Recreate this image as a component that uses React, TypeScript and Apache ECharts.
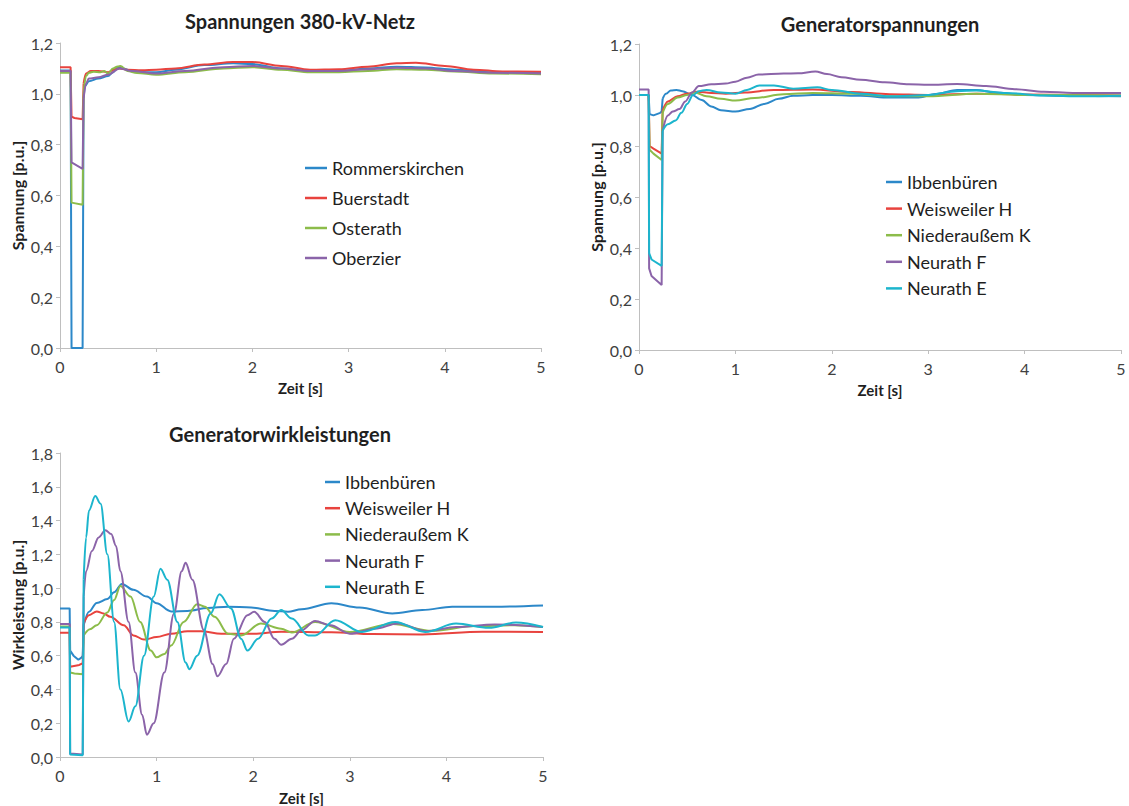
import React, { useEffect, useRef } from "react";
import * as echarts from "echarts";

// ---------- data ----------
const FAULT_END = 0.245; // first point after fault clearing (start of smooth part)

const titles = ["Spannungen 380-kV-Netz", "Generatorspannungen", "Generatorwirkleistungen"];
const yNames = ["Spannung [p.u.]", "Spannung [p.u.]", "Wirkleistung [p.u.]"];
const xName = "Zeit [s]";
const yMax = [1.2, 1.2, 1.8];

const names1 = ["Rommerskirchen", "Buerstadt", "Osterath", "Oberzier"];
const names2 = ["Ibbenbüren", "Weisweiler H", "Niederaußem K", "Neurath F", "Neurath E"];

const colBlue = "#2C88C9";
const colRed = "#E8433E";
const colGreen = "#8CBC4A";
const colPurple = "#8B64A9";
const colCyan = "#1CB5CD";
const colors1 = [colBlue, colRed, colGreen, colPurple];
const colors2 = [colBlue, colRed, colGreen, colPurple, colCyan];

// Chart 1: Spannungen 380-kV-Netz
const c1Rommerskirchen = [[0,1.092],[0.11,1.092],[0.12,0],[0.235,0],[0.245,0.98],[0.26,1.03],[0.3,1.05],[0.4,1.06],[0.5,1.07],[0.55,1.085],[0.6,1.105],[0.65,1.1],[0.75,1.09],[0.9,1.085],[1.0,1.085],[1.2,1.095],[1.5,1.113],[1.8,1.12],[2.0,1.117],[2.3,1.1],[2.6,1.09],[2.9,1.09],[3.2,1.1],[3.5,1.107],[3.8,1.104],[4.1,1.095],[4.5,1.085],[5,1.083]];
const c1Buerstadt = [[0,1.105],[0.11,1.105],[0.12,0.91],[0.15,0.905],[0.235,0.9],[0.245,1.04],[0.27,1.08],[0.32,1.09],[0.4,1.09],[0.5,1.085],[0.56,1.095],[0.62,1.1],[0.7,1.095],[0.85,1.093],[1.0,1.095],[1.2,1.1],[1.5,1.115],[1.8,1.125],[2.0,1.125],[2.3,1.11],[2.6,1.095],[2.9,1.097],[3.2,1.107],[3.5,1.12],[3.7,1.122],[4.0,1.11],[4.3,1.095],[4.6,1.088],[5,1.087]];
const c1Osterath = [[0,1.083],[0.11,1.083],[0.12,0.572],[0.235,0.564],[0.245,1.0],[0.27,1.07],[0.3,1.083],[0.35,1.087],[0.42,1.085],[0.46,1.09],[0.5,1.08],[0.55,1.1],[0.6,1.108],[0.63,1.11],[0.7,1.09],[0.8,1.082],[1.0,1.075],[1.3,1.085],[1.7,1.1],[2.0,1.105],[2.3,1.095],[2.6,1.085],[2.9,1.085],[3.2,1.09],[3.5,1.097],[3.8,1.095],[4.1,1.088],[4.5,1.08],[5,1.077]];
const c1Oberzier = [[0,1.09],[0.11,1.09],[0.12,0.73],[0.235,0.705],[0.245,0.98],[0.27,1.04],[0.3,1.06],[0.4,1.065],[0.5,1.075],[0.62,1.1],[0.75,1.09],[1.0,1.08],[1.3,1.09],[1.7,1.105],[2.0,1.11],[2.3,1.1],[2.6,1.09],[2.9,1.09],[3.2,1.097],[3.5,1.103],[3.8,1.1],[4.1,1.09],[4.5,1.083],[5,1.08]];

// Chart 2: Generatorspannungen
const c2Ibbenbueren = [[0,1.0],[0.1,1.0],[0.11,0.925],[0.15,0.92],[0.22,0.93],[0.235,0.935],[0.245,0.985],[0.28,1.005],[0.33,1.018],[0.39,1.02],[0.45,1.015],[0.55,1.0],[0.65,0.98],[0.75,0.955],[0.85,0.94],[1.0,0.935],[1.15,0.945],[1.3,0.965],[1.45,0.985],[1.6,0.997],[1.8,1.0],[2.0,1.0],[2.3,0.997],[2.6,0.99],[2.9,0.99],[3.1,1.005],[3.3,1.02],[3.5,1.02],[3.7,1.01],[4.0,1.0],[4.5,0.997],[5,0.995]];
const c2WeisweilerH = [[0,1.0],[0.1,1.0],[0.11,0.8],[0.15,0.79],[0.235,0.77],[0.245,0.94],[0.3,0.975],[0.4,0.995],[0.5,1.005],[0.6,1.013],[0.75,1.008],[0.9,1.005],[1.1,1.01],[1.4,1.02],[1.8,1.022],[2.2,1.012],[2.6,1.003],[3.0,1.0],[3.5,1.005],[4.0,1.002],[5,0.998]];
const c2NiederaussemK = [[0,1.0],[0.1,1.0],[0.11,0.785],[0.15,0.77],[0.235,0.745],[0.245,0.93],[0.3,0.965],[0.4,0.99],[0.5,1.0],[0.58,1.01],[0.7,0.995],[0.85,0.985],[1.0,0.978],[1.2,0.988],[1.5,1.003],[1.8,1.008],[2.2,1.005],[2.6,0.995],[3.0,0.995],[3.5,1.005],[4.0,1.0],[5,0.998]];
const c2NeurathF = [[0,1.022],[0.1,1.022],[0.105,0.32],[0.13,0.29],[0.235,0.255],[0.245,0.86],[0.3,0.92],[0.35,0.935],[0.42,0.945],[0.48,0.975],[0.55,1.01],[0.62,1.035],[0.75,1.042],[0.9,1.045],[1.0,1.052],[1.12,1.068],[1.24,1.08],[1.5,1.084],[1.65,1.085],[1.83,1.092],[1.95,1.082],[2.1,1.07],[2.3,1.06],[2.55,1.05],[2.8,1.042],[3.0,1.04],[3.3,1.043],[3.6,1.035],[3.9,1.023],[4.2,1.013],[4.5,1.008],[5,1.008]];
const c2NeurathE = [[0,1.0],[0.1,1.0],[0.105,0.38],[0.13,0.355],[0.235,0.33],[0.245,0.86],[0.3,0.885],[0.38,0.9],[0.44,0.93],[0.5,0.965],[0.56,1.0],[0.62,1.015],[0.7,1.02],[0.85,1.01],[1.0,1.005],[1.12,1.02],[1.25,1.037],[1.4,1.037],[1.6,1.025],[1.85,1.03],[2.0,1.02],[2.3,1.005],[2.6,0.995],[3.0,1.0],[3.3,1.015],[3.5,1.018],[3.8,1.008],[4.2,0.998],[4.6,0.995],[5,0.997]];

// Chart 3: Generatorwirkleistungen
const c3Ibbenbueren = [[0,0.88],[0.1,0.88],[0.105,0.63],[0.14,0.6],[0.19,0.576],[0.225,0.59],[0.235,0.6],[0.245,0.78],[0.3,0.86],[0.38,0.912],[0.49,0.935],[0.56,0.975],[0.64,1.025],[0.76,0.99],[0.9,0.95],[1.0,0.91],[1.15,0.862],[1.32,0.865],[1.53,0.882],[1.74,0.89],[1.98,0.885],[2.22,0.865],[2.36,0.86],[2.5,0.875],[2.81,0.91],[3.1,0.885],[3.44,0.85],[3.75,0.87],[4.06,0.89],[4.5,0.89],[5,0.897]];
const c3WeisweilerH = [[0,0.735],[0.1,0.735],[0.105,0.535],[0.2,0.545],[0.235,0.555],[0.245,0.79],[0.3,0.84],[0.38,0.862],[0.45,0.85],[0.52,0.83],[0.66,0.78],[0.76,0.72],[0.87,0.695],[1.0,0.71],[1.15,0.73],[1.32,0.745],[1.46,0.745],[1.67,0.73],[2.0,0.73],[2.29,0.742],[2.81,0.738],[3.23,0.728],[3.75,0.726],[4.375,0.742],[5,0.74]];
const c3NiederaussemK = [[0,0.773],[0.1,0.773],[0.105,0.5],[0.15,0.495],[0.235,0.49],[0.245,0.72],[0.31,0.757],[0.38,0.78],[0.49,0.856],[0.56,0.93],[0.625,1.013],[0.73,0.95],[0.83,0.8],[0.94,0.63],[1.0,0.59],[1.08,0.61],[1.15,0.66],[1.28,0.8],[1.42,0.905],[1.5,0.89],[1.6,0.83],[1.74,0.73],[1.875,0.72],[2.08,0.79],[2.29,0.76],[2.4,0.737],[2.64,0.8],[3.0,0.74],[3.44,0.787],[3.85,0.747],[4.3,0.775],[4.7,0.78],[5,0.77]];
const c3NeurathF = [[0,0.787],[0.1,0.787],[0.105,0.02],[0.235,0.015],[0.245,0.95],[0.27,1.1],[0.33,1.22],[0.4,1.3],[0.47,1.343],[0.53,1.32],[0.58,1.25],[0.625,1.1],[0.71,0.8],[0.78,0.5],[0.85,0.25],[0.9,0.132],[0.97,0.2],[1.08,0.5],[1.18,0.85],[1.26,1.1],[1.3,1.15],[1.37,1.05],[1.49,0.75],[1.58,0.55],[1.63,0.478],[1.72,0.55],[1.8,0.7],[1.94,0.84],[2.01,0.86],[2.12,0.8],[2.22,0.7],[2.29,0.665],[2.4,0.7],[2.5,0.75],[2.64,0.806],[2.8,0.78],[3.0,0.73],[3.26,0.76],[3.5,0.79],[3.8,0.745],[4.1,0.77],[4.5,0.785],[5,0.77]];
const c3NeurathE = [[0,0.767],[0.1,0.767],[0.105,0.015],[0.235,0.01],[0.245,1.05],[0.27,1.3],[0.3,1.46],[0.365,1.545],[0.42,1.5],[0.49,1.2],[0.56,0.8],[0.625,0.4],[0.71,0.21],[0.78,0.3],[0.87,0.6],[0.97,0.95],[1.04,1.115],[1.11,1.05],[1.215,0.8],[1.3,0.56],[1.34,0.52],[1.42,0.6],[1.56,0.85],[1.65,0.963],[1.77,0.88],[1.875,0.7],[1.94,0.63],[2.05,0.7],[2.19,0.82],[2.29,0.87],[2.4,0.82],[2.57,0.72],[2.64,0.72],[2.85,0.81],[3.125,0.74],[3.47,0.8],[3.78,0.74],[4.1,0.79],[4.44,0.765],[4.72,0.796],[5,0.77]];

const chart1Data = [c1Rommerskirchen, c1Buerstadt, c1Osterath, c1Oberzier];
const chart2Data = [c2Ibbenbueren, c2WeisweilerH, c2NiederaussemK, c2NeurathF, c2NeurathE];
const chart3Data = [c3Ibbenbueren, c3WeisweilerH, c3NiederaussemK, c3NeurathF, c3NeurathE];

// ---------- chart ----------
const FONT = "Lato, 'Open Sans', sans-serif";
const AXIS_COLOR = "#BFBFBF";
const LABEL_COLOR = "#404040";
const TEXT_COLOR = "#1f1f1f";

function makeSeries(name: string, color: string, data: number[][], g: number) {
  const base = {
    type: "line",
    name,
    xAxisIndex: g,
    yAxisIndex: g,
    showSymbol: false,
    symbol: "none",
    lineStyle: { width: 2, color },
    itemStyle: { color },
    emphasis: { disabled: true },
  };
  return [
    { ...base, data: data.filter((p) => p[0] <= FAULT_END), smooth: false },
    { ...base, data: data.filter((p) => p[0] >= FAULT_END), smooth: 0.35, smoothMonotone: "x" },
  ];
}

const fmtY = (v: number) => v.toFixed(1).replace(".", ",");

function makeAxes(g: number, nameGapX: number) {
  const x = {
    type: "value",
    gridIndex: g,
    min: 0,
    max: 5,
    interval: 1,
    name: xName,
    nameLocation: "middle",
    nameGap: nameGapX,
    nameTextStyle: { fontFamily: FONT, fontWeight: "bold", fontSize: 15, color: TEXT_COLOR },
    axisLine: { show: true, lineStyle: { color: AXIS_COLOR, width: 1 } },
    axisTick: { show: true, length: 4, lineStyle: { color: AXIS_COLOR } },
    axisLabel: { fontFamily: FONT, fontSize: 16, color: LABEL_COLOR, margin: 10, formatter: (v: number) => String(v) },
    splitLine: { show: false },
  };
  const y = {
    type: "value",
    gridIndex: g,
    min: 0,
    max: yMax[g],
    interval: 0.2,
    name: yNames[g],
    nameLocation: "middle",
    nameRotate: 90,
    nameGap: 35,
    nameTextStyle: { fontFamily: FONT, fontWeight: "bold", fontSize: 16, color: TEXT_COLOR },
    axisLine: { show: true, lineStyle: { color: AXIS_COLOR, width: 1 } },
    axisTick: { show: true, length: 4, lineStyle: { color: AXIS_COLOR } },
    axisLabel: { fontFamily: FONT, fontSize: 16, color: LABEL_COLOR, margin: 7, formatter: fmtY },
    splitLine: { show: false },
  };
  return { x, y };
}

function makeLegend(names: string[], left: number, top: number, itemWidth: number, gap: number) {
  return {
    data: names,
    orient: "vertical",
    left,
    top,
    padding: 0,
    icon: "rect",
    itemWidth,
    itemHeight: 2.5,
    itemGap: gap,
    selectedMode: false,
    textStyle: { fontFamily: FONT, fontSize: 18, lineHeight: 20, color: TEXT_COLOR },
  };
}

export default function App() {
  const ref = useRef<HTMLDivElement>(null);
  useEffect(() => {
    if (!ref.current) return;
    const chart = echarts.init(ref.current, undefined, { renderer: "svg" });
    const a1 = makeAxes(0, 32);
    const a2 = makeAxes(1, 32);
    const a3 = makeAxes(2, 33);
    const series: any[] = [];
    names1.forEach((n, i) => series.push(...makeSeries(n, colors1[i], chart1Data[i], 0)));
    names2.forEach((n, i) => series.push(...makeSeries(n, colors2[i], chart2Data[i], 1)));
    names2.forEach((n, i) => series.push(...makeSeries(n, colors2[i], chart3Data[i], 2)));
    const titleStyle = { fontFamily: FONT, fontWeight: "bold", fontSize: 20, color: TEXT_COLOR };
    chart.setOption({
      animation: false,
      backgroundColor: "#ffffff",
      title: [
        { text: titles[0], left: 300, top: 11, textAlign: "center", textStyle: titleStyle, padding: 0 },
        { text: titles[1], left: 880, top: 14, textAlign: "center", textStyle: titleStyle, padding: 0 },
        { text: titles[2], left: 280, top: 424, textAlign: "center", textStyle: titleStyle, padding: 0 },
      ],
      legend: [
        makeLegend(names1, 305, 158, 22, 10),
        makeLegend(names2, 886, 172, 16, 6.6),
        makeLegend(names2, 325, 472, 15, 6.2),
      ],
      grid: [
        { left: 60, top: 43, width: 481, height: 305 },
        { left: 639, top: 44, width: 482, height: 306 },
        { left: 60, top: 453, width: 483, height: 305 },
      ],
      xAxis: [a1.x, a2.x, a3.x],
      yAxis: [a1.y, a2.y, a3.y],
      series,
    });
    return () => chart.dispose();
  }, []);
  return (
    <div
      ref={ref}
      style={{ position: "absolute", left: 0, top: 0, width: 1129, height: 806, background: "#fff" }}
    />
  );
}
